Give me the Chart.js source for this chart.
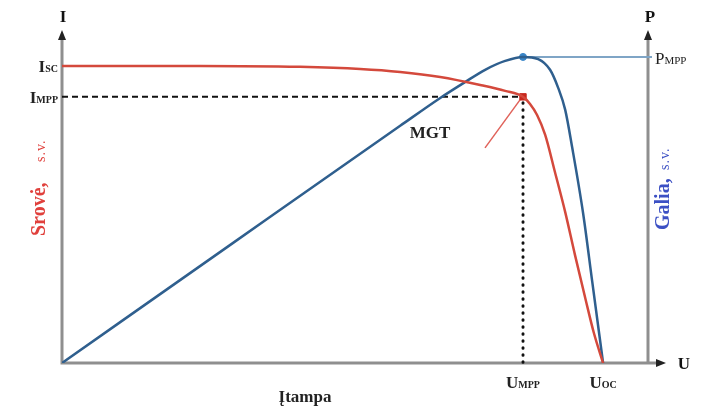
<!DOCTYPE html>
<html>
<head>
<meta charset="utf-8">
<script src="https://cdn.jsdelivr.net/npm/chart.js@4"></script>
<style>
  body { margin: 0; background: #fff; }
</style>
</head>
<body>
<canvas id="c" width="704" height="412"></canvas>
<script>
// Srovės kreivė (s.v.)
const uCurrent = [0, 0.255, 0.44, 0.551, 0.625, 0.699, 0.773, 0.819, 0.852, 0.865, 0.878, 0.893, 0.911, 0.93, 0.948, 0.967, 0.983, 1];
const iCurrent = [1, 1, 0.997, 0.99, 0.98, 0.963, 0.936, 0.916, 0.896, 0.872, 0.835, 0.768, 0.643, 0.508, 0.364, 0.219, 0.101, 0];
// Galios kreivė (s.v.)
const uPower = [0, 0.311, 0.625, 0.699, 0.745, 0.782, 0.819, 0.852, 0.88, 0.902, 0.917, 0.93, 0.943, 0.963, 0.98, 1];
const pPower = [0, 0.386, 0.775, 0.866, 0.918, 0.958, 0.987, 1, 0.993, 0.958, 0.899, 0.827, 0.703, 0.49, 0.265, 0];
// Charakteringi taškai
const U_MPP = 0.852, U_OC = 1, I_SC = 1, I_MPP = 0.896, P_MPP = 1;

const RED = '#d4493c';
const BLUE = '#2f5f8e';
const AXIS = '#8f8f8f';
const SERIF = '"Liberation Serif", "DejaVu Serif", serif';

function toPts(xs, ys) { return xs.map((x, i) => ({ x: x, y: ys[i] })); }

// tekstas iš kelių dalių (didelė raidė + mažas indeksas)
function mixed(ctx, parts, x, y, align, color) {
  let w = 0;
  parts.forEach(p => { ctx.font = p[1]; w += ctx.measureText(p[0]).width; });
  let cx = align === 'right' ? x - w : align === 'center' ? x - w / 2 : x;
  ctx.fillStyle = color;
  ctx.textAlign = 'left';
  ctx.textBaseline = 'alphabetic';
  parts.forEach(p => { ctx.font = p[1]; ctx.fillText(p[0], cx, y); cx += ctx.measureText(p[0]).width; });
}

function arrow(ctx, x, y, dir) {
  ctx.beginPath();
  if (dir === 'up') { ctx.moveTo(x, y); ctx.lineTo(x - 4, y + 10); ctx.lineTo(x + 4, y + 10); }
  else { ctx.moveTo(x, y); ctx.lineTo(x - 10, y - 4); ctx.lineTo(x - 10, y + 4); }
  ctx.closePath();
  ctx.fillStyle = '#222';
  ctx.fill();
}

// vertikalus užrašas: pavadinimas + "s.v."
function vLabel(ctx, cx, cy, name, nameFrom, svFrom, color) {
  ctx.save();
  ctx.translate(cx, cy);
  ctx.rotate(-Math.PI / 2);
  mixed(ctx, [[name, 'bold 20px ' + SERIF]], nameFrom, 0, 'left', color);
  ctx.letterSpacing = '1px';
  mixed(ctx, [['s.v.', '14px ' + SERIF]], svFrom, 0, 'left', color);
  ctx.restore();
}

const axesPlugin = {
  id: 'axesPlugin',
  beforeDatasetsDraw(chart) {
    const ctx = chart.ctx;
    const xs = chart.scales.x, yi = chart.scales.yI, yp = chart.scales.yP;
    const x0 = xs.getPixelForValue(0), y0 = yi.getPixelForValue(0);
    const xR = xs.right, top = yi.top;
    ctx.save();
    // ašys
    ctx.strokeStyle = AXIS;
    ctx.lineWidth = 3;
    ctx.beginPath();
    ctx.moveTo(x0, top + 6); ctx.lineTo(x0, y0);
    ctx.lineTo(xR + 8, y0);
    ctx.moveTo(xR, top + 6); ctx.lineTo(xR, y0);
    ctx.stroke();
    arrow(ctx, x0, top, 'up');
    arrow(ctx, xR, top, 'up');
    arrow(ctx, xR + 18, y0, 'right');

    // IMPP ir UMPP brūkšninės linijos
    const xm = xs.getPixelForValue(U_MPP), yim = yi.getPixelForValue(I_MPP);
    ctx.strokeStyle = '#111';
    ctx.lineWidth = 2;
    ctx.setLineDash([6, 4]);
    ctx.beginPath(); ctx.moveTo(x0, yim); ctx.lineTo(xm, yim); ctx.stroke();
    ctx.lineWidth = 3;
    ctx.lineCap = 'round';
    ctx.setLineDash([0.5, 6.5]);
    ctx.beginPath(); ctx.moveTo(xm, yim + 6); ctx.lineTo(xm, y0); ctx.stroke();
    ctx.setLineDash([]);
    ctx.lineCap = 'butt';

    // PMPP linija
    const ypm = yp.getPixelForValue(P_MPP);
    ctx.strokeStyle = '#7fa5c6';
    ctx.lineWidth = 2;
    ctx.beginPath(); ctx.moveTo(xm, ypm); ctx.lineTo(xR + 4, ypm); ctx.stroke();

    // MGT rodyklė
    ctx.strokeStyle = '#e0625a';
    ctx.lineWidth = 1.5;
    ctx.beginPath(); ctx.moveTo(xm - 38, yim + 51); ctx.lineTo(xm - 3, yim + 3); ctx.stroke();
    ctx.restore();
  },
  afterDatasetsDraw(chart) {
    const ctx = chart.ctx;
    const xs = chart.scales.x, yi = chart.scales.yI, yp = chart.scales.yP;
    const x0 = xs.getPixelForValue(0), y0 = yi.getPixelForValue(0);
    const xR = xs.right;
    const big = 'bold 17px ' + SERIF, small = 'bold 10px ' + SERIF;
    ctx.save();
    mixed(ctx, [['I', big]], x0 + 1, 22, 'center', '#111');
    mixed(ctx, [['P', big]], xR + 2, 22, 'center', '#111');
    mixed(ctx, [['U', big]], xR + 36, y0 + 6, 'center', '#111');
    mixed(ctx, [['I', big], ['SC', small]], x0 - 4, yi.getPixelForValue(I_SC) + 6, 'right', '#222');
    mixed(ctx, [['I', big], ['MPP', small]], x0 - 4, yi.getPixelForValue(I_MPP) + 6, 'right', '#222');
    mixed(ctx, [['U', big], ['MPP', small]], xs.getPixelForValue(U_MPP), y0 + 25, 'center', '#222');
    mixed(ctx, [['U', big], ['OC', small]], xs.getPixelForValue(U_OC), y0 + 25, 'center', '#222');
    mixed(ctx, [['P', '17px ' + SERIF], ['MPP', '11px ' + SERIF]], xR + 7, yp.getPixelForValue(P_MPP) + 7, 'left', '#222');
    mixed(ctx, [['MGT', big]], xs.getPixelForValue(U_MPP) - 93, yi.getPixelForValue(I_MPP) + 41, 'center', '#222');
    mixed(ctx, [['Įtampa', big]], 305, 402, 'center', '#222');
    ctx.restore();

    // vertikalūs ašių pavadinimai
    vLabel(ctx, 45, 180, 'Srovė,', -56, 18, '#e0403c');
    vLabel(ctx, 669, 185, 'Galia,', -45, 15, '#3c50c4');
  }
};

new Chart(document.getElementById('c'), {
  type: 'line',
  data: {
    datasets: [
      {
        data: toPts(uCurrent, iCurrent), yAxisID: 'yI',
        borderColor: RED, borderWidth: 2.5, pointRadius: 0,
        cubicInterpolationMode: 'monotone'
      },
      {
        data: toPts(uPower, pPower), yAxisID: 'yP',
        borderColor: BLUE, borderWidth: 2.5, pointRadius: 0,
        cubicInterpolationMode: 'monotone'
      },
      {
        data: [{ x: U_MPP, y: I_MPP }], yAxisID: 'yI', showLine: false,
        pointStyle: 'rect', pointRadius: 4.5, backgroundColor: '#c8281e', borderColor: '#c8281e'
      },
      {
        data: [{ x: U_MPP, y: P_MPP }], yAxisID: 'yP', showLine: false,
        pointStyle: 'circle', pointRadius: 3.5, backgroundColor: '#3a86c8', borderColor: '#3a86c8'
      }
    ]
  },
  options: {
    responsive: false,
    animation: false,
    devicePixelRatio: 1,
    layout: { padding: { left: 62, right: 56, top: 30, bottom: 49 } },
    plugins: { legend: { display: false }, tooltip: { enabled: false } },
    scales: {
      x: { type: 'linear', min: 0, max: 1.083, display: false },
      yI: { type: 'linear', min: 0, max: 1.121, display: false },
      yP: { type: 'linear', min: 0, max: 1.088, display: false }
    }
  },
  plugins: [axesPlugin]
});
</script>
</body>
</html>
